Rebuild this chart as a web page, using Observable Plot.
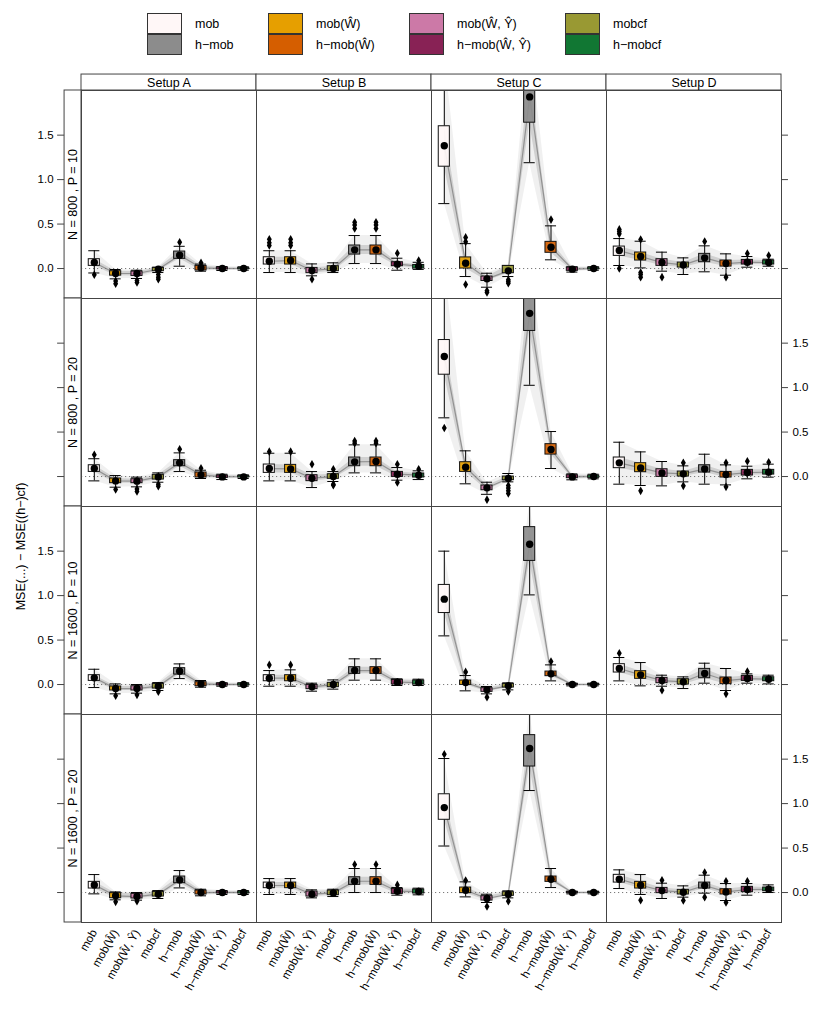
<!DOCTYPE html>
<html><head><meta charset="utf-8">
<script src="https://cdn.jsdelivr.net/npm/d3@7"></script>
<script src="https://cdn.jsdelivr.net/npm/@observablehq/plot@0.6"></script>
<style>
body{margin:0;background:#fff;font-family:"Liberation Sans",Arial,sans-serif;overflow:hidden;}
#legend{position:relative;width:830px;height:65px;}
.sw{position:absolute;width:35px;height:21px;border:1px solid #333;box-sizing:border-box;}
.lb{position:absolute;font-size:12.5px;line-height:14px;white-space:nowrap;color:#000;}
#chart svg{display:block;}
</style></head><body>
<div id="legend"></div><div id="chart"></div>
<script>
const setups = ["Setup A", "Setup B", "Setup C", "Setup D"];
const rows = ["N = 800 , P = 10", "N = 800 , P = 20", "N = 1600 , P = 10", "N = 1600 , P = 20"];
const methods = ["mob", "mob(Ŵ)", "mob(Ŵ, Ŷ)", "mobcf", "h−mob", "h−mob(Ŵ)", "h−mob(Ŵ, Ŷ)", "h−mobcf"];
const colors = ["#FFF7F7", "#E69F00", "#CC79A7", "#999933", "#8C8C8C", "#D55E00", "#882255", "#117733"];
const yTicks = [0, 0.5, 1, 1.5];
const yTitle = "MSE(...) − MSE((h−)cf)";

// five-number summaries per method: [lower whisker, Q1, median, Q3, upper whisker]
const n800p10_A = [[-0.05,0.03,0.067,0.105,0.20],[-0.116,-0.08,-0.056,-0.03,-0.011],[-0.112,-0.083,-0.056,-0.034,-0.019],[-0.045,-0.03,-0.008,0.007,0.015],[0.026,0.109,0.15,0.191,0.25],[-0.03,-0.022,0.008,0.03,0.05],[-0.022,-0.011,0,0.011,0.022],[-0.019,-0.008,0,0.008,0.019]];
const n800p10_B = [[-0.045,0.045,0.082,0.127,0.2],[-0.045,0.045,0.09,0.127,0.2],[-0.082,-0.052,-0.022,0.007,0.052],[-0.045,-0.03,0,0.026,0.064],[0.056,0.157,0.21,0.259,0.371],[0.056,0.157,0.21,0.259,0.371],[-0.019,0.026,0.049,0.071,0.116],[-0.01,0,0.026,0.04,0.07]];
const n800p10_C = [[0.73,1.145,1.38,1.6,2.4],[-0.09,0,0.06,0.125,0.28],[-0.21,-0.14,-0.116,-0.09,-0.053],[-0.09,-0.053,-0.026,0.03,0.034],[1.19,1.64,1.93,2.15,2.6],[0.098,0.177,0.24,0.30,0.48],[-0.04,-0.026,-0.007,0.011,0.02],[-0.02,-0.01,0,0.01,0.02]];
const n800p10_D = [[0.034,0.142,0.202,0.247,0.337],[0.007,0.09,0.135,0.18,0.307],[-0.03,0.03,0.067,0.105,0.184],[-0.067,0.011,0.041,0.067,0.12],[-0.037,0.071,0.12,0.165,0.255],[-0.075,0.022,0.056,0.09,0.165],[0.015,0.045,0.071,0.097,0.135],[0.026,0.045,0.067,0.09,0.105]];
const n800p20_A = [[-0.049,0.052,0.09,0.127,0.2],[-0.12,-0.075,-0.049,-0.022,0.011],[-0.116,-0.075,-0.052,-0.03,-0.007],[-0.064,-0.034,-0.004,0.019,0.041],[0.056,0.116,0.154,0.184,0.266],[-0.022,-0.011,0.019,0.045,0.071],[-0.034,-0.015,-0.004,0.011,0.026],[-0.022,-0.011,-0.004,0.007,0.019]];
const n800p20_B = [[-0.049,0.041,0.09,0.135,0.262],[-0.049,0.041,0.086,0.131,0.262],[-0.124,-0.052,-0.019,0.015,0.056],[-0.056,-0.026,0,0.026,0.056],[0.041,0.116,0.165,0.214,0.356],[0.041,0.116,0.169,0.214,0.356],[-0.041,-0.004,0.026,0.052,0.101],[-0.034,-0.011,0.015,0.034,0.064]];
const n800p20_C = [[0.66,1.145,1.35,1.535,2.4],[-0.082,0.052,0.105,0.161,0.289],[-0.2,-0.154,-0.127,-0.101,-0.064],[-0.06,-0.041,-0.022,0,0.034],[1.026,1.637,1.835,2.1,2.5],[0.09,0.247,0.304,0.364,0.506],[-0.037,-0.019,-0.004,0.015,0.03],[-0.026,-0.015,0,0.011,0.026]];
const n800p20_D = [[-0.086,0.094,0.154,0.214,0.386],[-0.101,0.049,0.097,0.15,0.277],[-0.105,-0.004,0.041,0.082,0.169],[-0.06,0,0.03,0.056,0.12],[-0.086,0.045,0.086,0.127,0.251],[-0.094,-0.011,0.022,0.052,0.131],[-0.026,0.011,0.045,0.075,0.116],[-0.007,0.022,0.049,0.075,0.139]];
const n1600p10_A = [[-0.034,0.041,0.075,0.105,0.172],[-0.105,-0.067,-0.045,-0.022,0.007],[-0.097,-0.067,-0.045,-0.019,0],[-0.067,-0.045,-0.019,0.007,0.022],[0.067,0.112,0.15,0.184,0.232],[-0.03,-0.019,0.007,0.026,0.045],[-0.019,-0.011,0,0.011,0.019],[-0.019,-0.011,0,0.011,0.019]];
const n1600p10_B = [[-0.019,0.037,0.071,0.105,0.157],[-0.019,0.037,0.071,0.105,0.165],[-0.075,-0.052,-0.026,-0.004,0.015],[-0.052,-0.03,0,0.019,0.052],[0.049,0.12,0.157,0.195,0.289],[0.049,0.12,0.157,0.195,0.289],[-0.011,0,0.026,0.052,0.064],[-0.011,0,0.022,0.045,0.06]];
const n1600p10_C = [[0.547,0.804,0.96,1.12,1.5],[-0.071,-0.004,0.022,0.045,0.101],[-0.105,-0.082,-0.06,-0.041,-0.022],[-0.06,-0.034,-0.015,0.007,0.019],[1.008,1.39,1.577,1.77,2.05],[0.041,0.094,0.12,0.146,0.221],[-0.015,-0.007,0,0.007,0.015],[-0.015,-0.007,0,0.007,0.015]];
const n1600p10_D = [[0.041,0.135,0.18,0.229,0.304],[-0.015,0.064,0.109,0.15,0.247],[-0.019,0.015,0.045,0.075,0.105],[-0.045,0,0.03,0.06,0.086],[0.015,0.071,0.124,0.176,0.24],[-0.067,0.004,0.045,0.079,0.18],[0.015,0.041,0.067,0.097,0.12],[0.007,0.037,0.06,0.082,0.105]];
const n1600p20_A = [[-0.015,0.045,0.086,0.12,0.202],[-0.082,-0.064,-0.037,-0.007,0.007],[-0.086,-0.067,-0.045,-0.015,0],[-0.067,-0.045,-0.019,0.007,0.022],[0.052,0.105,0.142,0.18,0.247],[-0.037,-0.022,0,0.022,0.037],[-0.022,-0.011,0,0.011,0.022],[-0.022,-0.011,0,0.011,0.022]];
const n1600p20_B = [[-0.022,0.049,0.079,0.112,0.157],[-0.022,0.049,0.079,0.112,0.157],[-0.06,-0.045,-0.019,0.011,0.03],[-0.045,-0.03,-0.004,0.022,0.037],[0,0.086,0.127,0.172,0.27],[0,0.086,0.127,0.172,0.27],[-0.03,-0.015,0.015,0.041,0.056],[-0.026,-0.011,0.011,0.034,0.049]];
const n1600p20_C = [[0.523,0.818,0.955,1.105,1.507],[-0.049,-0.007,0.026,0.056,0.12],[-0.112,-0.09,-0.067,-0.041,-0.019],[-0.06,-0.037,-0.019,0.004,0.019],[1.147,1.417,1.62,1.77,2.05],[0.056,0.12,0.15,0.18,0.27],[-0.015,-0.007,0,0.007,0.015],[-0.015,-0.007,0,0.007,0.015]];
const n1600p20_D = [[0.045,0.112,0.15,0.199,0.255],[-0.022,0.045,0.082,0.12,0.202],[-0.067,-0.007,0.022,0.052,0.105],[-0.052,-0.022,0.004,0.03,0.075],[-0.007,0.045,0.079,0.112,0.195],[-0.09,-0.022,0.007,0.037,0.101],[-0.03,0.004,0.034,0.064,0.101],[0,0.015,0.037,0.056,0.086]];

// outliers per method
const n800p10_A_out = [[-0.07],[-0.14,-0.17],[-0.135,-0.157],[-0.067,-0.097,-0.12],[0.296],[0.064],[],[]];
const n800p10_B_out = [[0.26,0.29,0.33],[0.26,0.29,0.33],[-0.12],[],[0.45,0.49,0.52],[0.45,0.49,0.52],[0.172],[0.09]];
const n800p10_C_out = [[],[0.30,0.35,-0.18],[-0.25,-0.27],[-0.127,-0.146,-0.165],[],[0.55],[],[]];
const n800p10_D_out = [[0.39,0.416,0.44,0.0],[0.326,-0.045,-0.067,-0.097],[-0.097],[],[0.304],[-0.097],[0.169],[0.146]];
const n800p20_A_out = [[0.244],[-0.146],[-0.139,-0.169],[-0.086,-0.109],[0.307],[0.094],[],[]];
const n800p20_B_out = [[0.28],[0.28],[0.139],[0.082,-0.086,-0.097],[0.375,0.40],[0.375,0.40],[0.139,-0.067],[0.082]];
const n800p20_C_out = [[0.546],[],[-0.26],[-0.1,-0.13,-0.16,-0.19],[],[],[],[]];
const n800p20_D_out = [[],[-0.161],[],[0.154,-0.105],[],[0.154,-0.116],[0.172],[0.161]];
const n1600p10_A_out = [[],[-0.127],[-0.116],[-0.082],[],[],[],[]];
const n1600p10_B_out = [[0.221],[0.221],[],[],[],[],[],[]];
const n1600p10_C_out = [[],[0.142],[-0.142],[-0.079],[],[0.259],[],[]];
const n1600p10_D_out = [[0.352],[],[-0.064],[],[],[-0.105],[0.146],[]];
const n1600p20_A_out = [[],[-0.105],[-0.097],[],[],[],[],[]];
const n1600p20_B_out = [[],[],[],[],[0.315],[0.315],[0.086],[]];
const n1600p20_C_out = [[1.555],[0.135],[-0.157],[-0.097],[],[],[],[]];
const n1600p20_D_out = [[],[-0.086],[0.139],[-0.09],[0.225,-0.052],[0.127,-0.112],[0.127],[]];

const panels = [
  [0,0,n800p10_A,n800p10_A_out],[0,1,n800p10_B,n800p10_B_out],[0,2,n800p10_C,n800p10_C_out],[0,3,n800p10_D,n800p10_D_out],
  [1,0,n800p20_A,n800p20_A_out],[1,1,n800p20_B,n800p20_B_out],[1,2,n800p20_C,n800p20_C_out],[1,3,n800p20_D,n800p20_D_out],
  [2,0,n1600p10_A,n1600p10_A_out],[2,1,n1600p10_B,n1600p10_B_out],[2,2,n1600p10_C,n1600p10_C_out],[2,3,n1600p10_D,n1600p10_D_out],
  [3,0,n1600p20_A,n1600p20_A_out],[3,1,n1600p20_B,n1600p20_B_out],[3,2,n1600p20_C,n1600p20_C_out],[3,3,n1600p20_D,n1600p20_D_out]
];

const stats = [], outliers = [];
for (const [r, s, st, out] of panels) {
  st.forEach(([lo,q1,med,q3,hi], i) => stats.push({row: rows[r], setup: setups[s], i, m: methods[i], lo, q1, med, q3, hi}));
  out.forEach((vs, i) => vs.forEach(v => outliers.push({row: rows[r], setup: setups[s], i, v})));
}

// legend
const legend = document.getElementById("legend");
const legendX = [147, 268, 409, 565];
legendX.forEach((lx, g) => {
  [[g, 13], [g + 4, 34]].forEach(([k, top]) => {
    const sw = document.createElement("div");
    sw.className = "sw"; sw.style.left = lx + "px"; sw.style.top = top + "px"; sw.style.background = colors[k];
    legend.appendChild(sw);
    const lb = document.createElement("div");
    lb.className = "lb"; lb.style.left = (lx + 48) + "px"; lb.style.top = (top + 4) + "px"; lb.textContent = methods[k];
    legend.appendChild(lb);
  });
});

const W = 830, H = 963, mL = 79, mR = 48, mT = 24, mB = 105;
const xmin = -0.6, xmax = 7.6, ymin = -0.337, ymax = 2.002;
const ux = (xmax - xmin) / ((W - mL - mR) / 4);   // x units per pixel
const uy = (ymax - ymin) / ((H - mT - mB) / 4);   // y units per pixel
const stripW = 17, tickLen = 7;

const topStrips = setups.map(s => ({setup: s, row: rows[0]}));
const leftStrips = rows.map(r => ({setup: setups[0], row: r}));
const leftTicks = rows.flatMap(r => yTicks.map(v => ({row: r, setup: setups[0], v, lab: rows.indexOf(r) % 2 === 0})));
const rightTicks = rows.flatMap(r => yTicks.map(v => ({row: r, setup: setups[3], v, lab: rows.indexOf(r) % 2 === 1})));
const xLabels = setups.flatMap(s => methods.map((m, i) => ({setup: s, row: rows[3], i, m})));
const fmt = d3.format(".1f");
const F = {fx: "setup", fy: "row"};

const chart = Plot.plot({
  width: W, height: H, marginLeft: mL, marginRight: mR, marginTop: mT, marginBottom: mB,
  x: {domain: [xmin, xmax], axis: null},
  y: {domain: [ymin, ymax], axis: null},
  fx: {domain: setups, padding: 0, axis: null},
  fy: {domain: rows, padding: 0, axis: null},
  color: {domain: methods, range: colors},
  style: {fontFamily: "Liberation Sans, Arial, sans-serif", fontSize: "11px", background: "white", color: "#000"},
  marks: [
    Plot.areaY(stats, {...F, x: "i", y1: "lo", y2: "hi", fill: "#000", fillOpacity: 0.06, clip: true}),
    Plot.areaY(stats, {...F, x: "i", y1: "q1", y2: "q3", fill: "#000", fillOpacity: 0.13, clip: true}),
    Plot.lineY(stats, {...F, x: "i", y: "med", stroke: "#000", strokeOpacity: 0.3, strokeWidth: 1.2, clip: true}),
    Plot.ruleY([0], {stroke: "#777", strokeDasharray: "1.2,2.8", strokeWidth: 1}),
    Plot.ruleX(stats, {...F, x: "i", y1: "lo", y2: "q1", stroke: "#000", clip: true}),
    Plot.ruleX(stats, {...F, x: "i", y1: "q3", y2: "hi", stroke: "#000", clip: true}),
    Plot.ruleY(stats, {...F, y: "lo", x1: d => d.i - 0.26, x2: d => d.i + 0.26, stroke: "#000", clip: true}),
    Plot.ruleY(stats, {...F, y: "hi", x1: d => d.i - 0.26, x2: d => d.i + 0.26, stroke: "#000", clip: true}),
    Plot.rect(stats, {...F, x1: d => d.i - 0.26, x2: d => d.i + 0.26, y1: "q1", y2: "q3", fill: "m", fillOpacity: 0.92, stroke: "#111", clip: true}),
    Plot.dot(stats, {...F, x: "i", y: "med", r: 3.7, fill: "#000", clip: true}),
    Plot.dot(outliers, {...F, x: "i", y: "v", r: 2.6, symbol: "diamond", fill: "#000", clip: true}),
    Plot.frame({stroke: "#444"}),
    // top strips
    Plot.rect(topStrips, {...F, x1: () => xmin, x2: () => xmax, y1: () => ymax, y2: () => ymax + 16 * uy, fill: "white", stroke: "#444"}),
    Plot.text(topStrips, {...F, x: () => (xmin + xmax) / 2, y: () => ymax + 8 * uy, text: "setup", fontSize: 12.5}),
    // left strips
    Plot.rect(leftStrips, {...F, x1: () => xmin - stripW * ux, x2: () => xmin, y1: () => ymin, y2: () => ymax, fill: "white", stroke: "#444"}),
    Plot.text(leftStrips, {...F, x: () => xmin - stripW / 2 * ux, y: () => (ymin + ymax) / 2, text: "row", rotate: -90, fontSize: 12.5}),
    // y axes
    Plot.ruleY(leftTicks, {...F, y: "v", x1: () => xmin - stripW * ux, x2: () => xmin - (stripW + tickLen) * ux, stroke: "#444"}),
    Plot.text(leftTicks.filter(d => d.lab), {...F, y: "v", x: () => xmin - (stripW + tickLen + 4) * ux, textAnchor: "end", text: d => fmt(d.v), fontSize: 11.5}),
    Plot.ruleY(rightTicks, {...F, y: "v", x1: () => xmax, x2: () => xmax + tickLen * ux, stroke: "#444"}),
    Plot.text(rightTicks.filter(d => d.lab), {...F, y: "v", x: () => xmax + (tickLen + 4) * ux, textAnchor: "start", text: d => fmt(d.v), fontSize: 11.5}),
    // x labels
    Plot.text(xLabels, {...F, x: "i", y: () => ymin - 8 * uy, rotate: -60, textAnchor: "end", text: "m", fontSize: 11.5}),
    // y title
    Plot.text([{setup: setups[0], row: rows[2]}], {...F, x: () => xmin - (mL - 18) * ux, y: () => ymax - 40 * uy, rotate: -90, text: () => yTitle, fontSize: 12.5})
  ]
});
document.getElementById("chart").appendChild(chart);
</script>
</body></html>
